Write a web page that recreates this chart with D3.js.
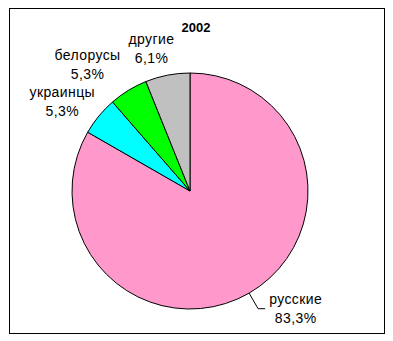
<!DOCTYPE html>
<html>
<head>
<meta charset="utf-8">
<script src="https://cdn.jsdelivr.net/npm/d3@7"></script>
<style>
  body { margin: 0; background: #fff; }
  text { font-family: "Liberation Sans", Arial, sans-serif; }
</style>
</head>
<body>
<script>
// chart data
var title = "2002";
var categories = ["русские", "украинцы", "белорусы", "другие"];
var values = [83.3, 5.3, 5.3, 6.1];
var percentLabels = ["83,3%", "5,3%", "5,3%", "6,1%"];
var colors = ["#FF99CC", "#00FFFF", "#00FF00", "#C0C0C0"];

// layout
var width = 393,
    height = 341;
var cx = 190, cy = 191, radius = 118;
var labelRadius = 155;
// small nudges so labels sit where the original put them
var labelNudge = [[28, -21], [-8, 4], [-21.5, 1], [-9, 5]];

var svg = d3.select("body").append("svg")
    .attr("width", width)
    .attr("height", height);

// outer frame
svg.append("rect")
    .attr("x", 9.5)
    .attr("y", 8.5)
    .attr("width", 375)
    .attr("height", 325)
    .attr("fill", "#fff")
    .attr("stroke", "#000")
    .attr("stroke-width", 1);

svg.append("text")
    .attr("x", 196)
    .attr("y", 32)
    .attr("text-anchor", "middle")
    .attr("font-size", 13)
    .attr("font-weight", "bold")
    .text(title);

var pie = d3.pie().sort(null).value(function(d) { return d; });
var arcs = pie(values);

var arc = d3.arc().innerRadius(0).outerRadius(radius);
var labelArc = d3.arc().innerRadius(labelRadius).outerRadius(labelRadius);

var g = svg.append("g")
    .attr("transform", "translate(" + cx + "," + cy + ")");

g.selectAll("path")
    .data(arcs)
    .enter().append("path")
    .attr("d", arc)
    .attr("fill", function(d, i) { return colors[i]; })
    .attr("stroke", "#000")
    .attr("stroke-width", 1);

// leader line for the big slice
var mid = (arcs[0].startAngle + arcs[0].endAngle) / 2;
var p0 = [radius * Math.sin(mid), -radius * Math.cos(mid)];
var p1 = [136 * Math.sin(mid), -136 * Math.cos(mid)];
g.append("polyline")
    .attr("points", [p0, p1, [p1[0] + 7, p1[1]]].map(function(p) { return p.join(","); }).join(" "))
    .attr("fill", "none")
    .attr("stroke", "#000")
    .attr("stroke-width", 1);

var labels = g.selectAll(".label")
    .data(arcs)
    .enter().append("text")
    .attr("class", "label")
    .attr("text-anchor", "middle")
    .attr("font-size", 14)
    .attr("letter-spacing", 0.4)
    .attr("fill", "#000")
    .attr("transform", function(d, i) {
        var c = labelArc.centroid(d);
        return "translate(" + (c[0] + labelNudge[i][0]) + "," + (c[1] + labelNudge[i][1]) + ")";
    });

labels.append("tspan")
    .attr("x", 0)
    .attr("y", 0)
    .text(function(d, i) { return categories[i]; });

labels.append("tspan")
    .attr("x", 0)
    .attr("y", 19)
    .text(function(d, i) { return percentLabels[i]; });
</script>
</body>
</html>
